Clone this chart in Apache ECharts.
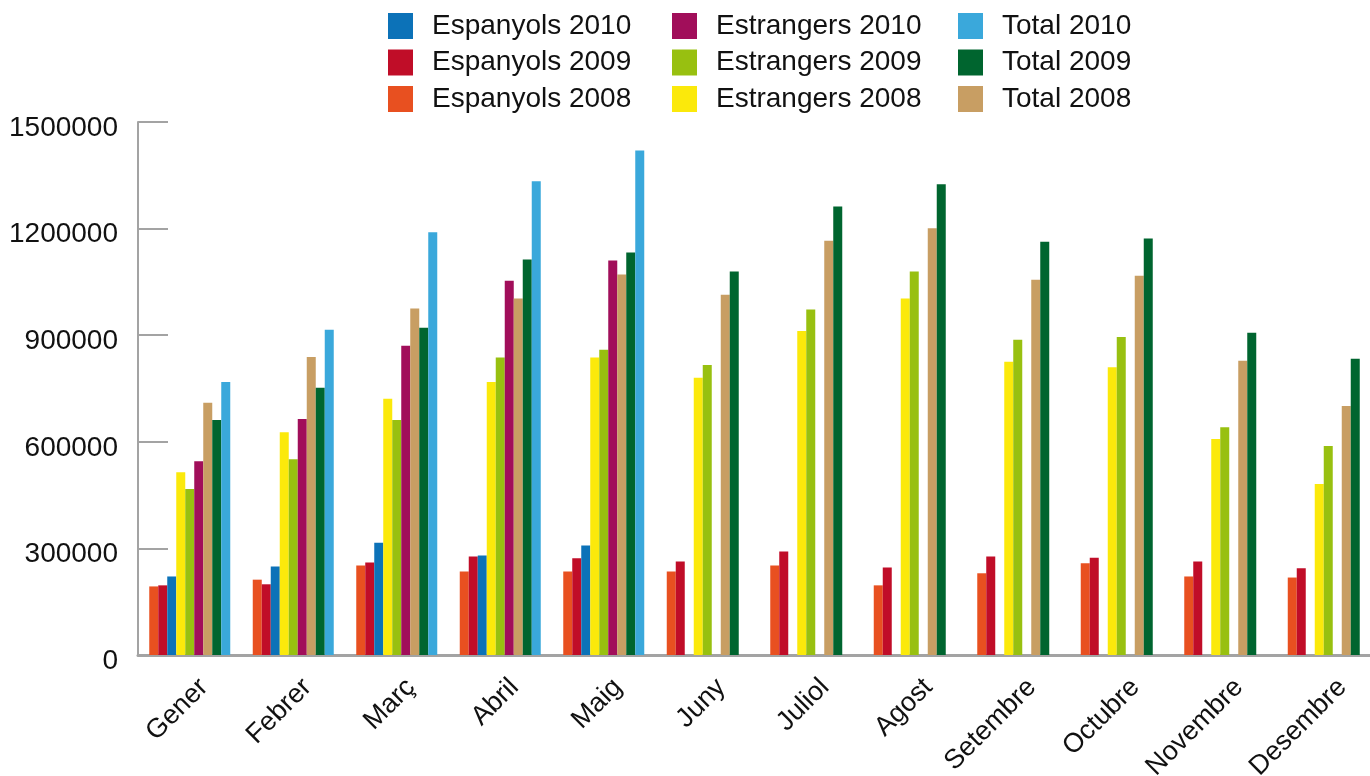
<!DOCTYPE html>
<html>
<head>
<meta charset="utf-8">
<script src="https://cdn.jsdelivr.net/npm/echarts@6/dist/echarts.min.js"></script>
<style>html,body{margin:0;padding:0;background:#fff}#c{width:1370px;height:776px}</style>
</head>
<body>
<div id="c"></div>
<script>
const months = ['Gener','Febrer','Març','Abril','Maig','Juny','Juliol','Agost','Setembre','Octubre','Novembre','Desembre'];
const yTicks = [0, 300000, 600000, 900000, 1200000, 1500000];

const espanyols2008 = [193000, 212000, 252000, 235000, 235000, 235000, 252000, 196000, 230000, 258000, 221000, 218000];
const espanyols2009 = [196000, 199000, 260000, 277000, 272000, 263000, 291000, 246000, 277000, 274000, 263000, 244000];
const espanyols2010 = [221000, 249000, 316000, 280000, 308000, null, null, null, null, null, null, null];
const estrangers2008 = [514000, 627000, 721000, 768000, 837000, 780000, 912000, 1003000, 825000, 810000, 608000, 481000];
const estrangers2009 = [467000, 551000, 661000, 837000, 859000, 816000, 972000, 1079000, 887000, 895000, 641000, 588000];
const estrangers2010 = [545000, 664000, 870000, 1053000, 1110000, null, null, null, null, null, null, null];
const total2008 = [710000, 839000, 975000, 1003000, 1071000, 1014000, 1166000, 1201000, 1056000, 1067000, 828000, 701000];
const total2009 = [661000, 752000, 921000, 1113000, 1133000, 1079000, 1262000, 1325000, 1163000, 1172000, 907000, 834000];
const total2010 = [768000, 915000, 1190000, 1333000, 1420000, null, null, null, null, null, null, null];

const font = 'Liberation Sans';
const mk = (name, data, color) => ({
  name, type: 'bar', data, barWidth: 9, barGap: '0%',
  itemStyle: { color }, emphasis: { disabled: true }
});
const legendBase = {
  orient: 'vertical', top: 12, padding: 0, itemWidth: 25, itemHeight: 26, itemGap: 8.5,
  icon: 'rect', selectedMode: false,
  textStyle: { fontFamily: font, fontSize: 28, color: '#111', padding: [0, 0, 0, 14] }
};

const chart = echarts.init(document.getElementById('c'));
chart.setOption({
  animation: false,
  legend: [
    Object.assign({}, legendBase, { left: 388, data: ['Espanyols 2010', 'Espanyols 2009', 'Espanyols 2008'] }),
    Object.assign({}, legendBase, { left: 672, data: ['Estrangers 2010', 'Estrangers 2009', 'Estrangers 2008'] }),
    Object.assign({}, legendBase, { left: 958, data: ['Total 2010', 'Total 2009', 'Total 2008'] })
  ],
  grid: { left: 138, top: 122, width: 1242, bottom: 121, containLabel: false, outerBoundsMode: 'none' },
  xAxis: {
    type: 'category', data: months,
    axisLine: { lineStyle: { color: '#a3a3a3', width: 3 } },
    axisTick: { inside: true, length: 10, lineStyle: { color: '#a3a3a3', width: 2 } },
    axisLabel: { rotate: 45, margin: 14, interval: 0,
      formatter: v => '{a|' + v + '}',
      rich: { a: { fontFamily: font, fontSize: 27, color: '#111', padding: [40, 0, 0, 0] } } }
  },
  yAxis: {
    type: 'value', min: yTicks[0], max: yTicks[yTicks.length - 1], interval: yTicks[1] - yTicks[0],
    splitLine: { show: false },
    axisLine: { show: true, lineStyle: { color: '#a3a3a3', width: 2 } },
    axisTick: { show: true, inside: true, length: 30, lineStyle: { color: '#a3a3a3', width: 2 } },
    axisLabel: { margin: 20,
      formatter: v => '{a|' + String(v) + '}',
      rich: { a: { fontFamily: font, fontSize: 28, color: '#111', padding: [12, 0, 0, 0] } } }
  },
  series: [
    mk('Espanyols 2008', espanyols2008, '#e85020'),
    mk('Espanyols 2009', espanyols2009, '#c00d28'),
    mk('Espanyols 2010', espanyols2010, '#0c72b8'),
    mk('Estrangers 2008', estrangers2008, '#fbe90b'),
    mk('Estrangers 2009', estrangers2009, '#98c010'),
    mk('Estrangers 2010', estrangers2010, '#a10e5a'),
    mk('Total 2008', total2008, '#c89e63'),
    mk('Total 2009', total2009, '#00652f'),
    mk('Total 2010', total2010, '#3aa8db')
  ]
});
</script>
</body>
</html>
